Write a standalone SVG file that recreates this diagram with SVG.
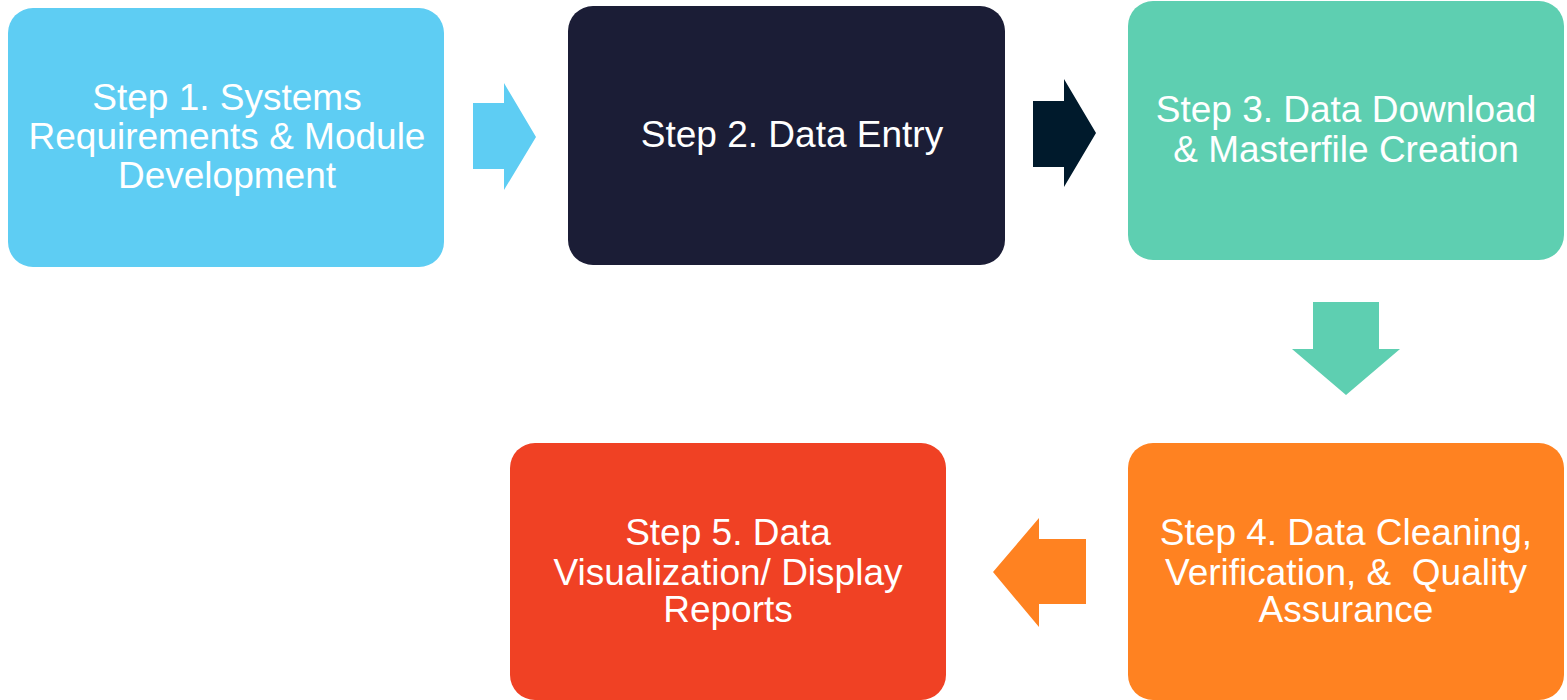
<svg xmlns="http://www.w3.org/2000/svg" width="1567" height="700" viewBox="0 0 1567 700">
<style>
text{font-family:"Liberation Sans",Arial,sans-serif;font-size:37px;fill:#ffffff;text-anchor:middle}
</style>
<rect width="1567" height="700" fill="#ffffff"/>
<g id="connectors">
<polygon points="473,103 504,103 504,83 536,137 504,190 504,169 473,169" fill="#5ecdf3"/>
<polygon points="1033,101 1064,101 1064,79 1096,133 1064,187 1064,167 1033,167" fill="#001a2c"/>
<polygon points="1313,302 1379,302 1379,349 1400,349 1346,395 1292,349 1313,349" fill="#5ecfb1"/>
<polygon points="1086,539 1039,539 1039,518 993,572 1039,627 1039,604 1086,604" fill="#ff8221"/>
</g>
<g id="step1">
<rect x="8" y="8" width="436" height="259" rx="25" fill="#5ecdf3"/>
<text x="227" y="110">Step 1. Systems</text>
<text x="227" y="149">Requirements &amp; Module</text>
<text x="227" y="188">Development</text>
</g>
<g id="step2">
<rect x="568" y="6" width="437" height="259" rx="25" fill="#1b1d36"/>
<text x="792" y="147">Step 2. Data Entry</text>
</g>
<g id="step3">
<rect x="1128" y="1" width="436" height="259" rx="25" fill="#5ecfb1"/>
<text x="1346" y="122">Step 3. Data Download</text>
<text x="1346" y="162">&amp; Masterfile Creation</text>
</g>
<g id="step4">
<rect x="1128" y="443" width="436" height="257" rx="25" fill="#ff8221"/>
<text x="1346" y="545">Step 4. Data Cleaning,</text>
<text x="1346" y="585" xml:space="preserve">Verification, &amp;  Quality</text>
<text x="1346" y="622">Assurance</text>
</g>
<g id="step5">
<rect x="510" y="443" width="436" height="257" rx="25" fill="#f04124"/>
<text x="728" y="545">Step 5. Data</text>
<text x="728" y="585">Visualization/ Display</text>
<text x="728" y="622">Reports</text>
</g>
</svg>
